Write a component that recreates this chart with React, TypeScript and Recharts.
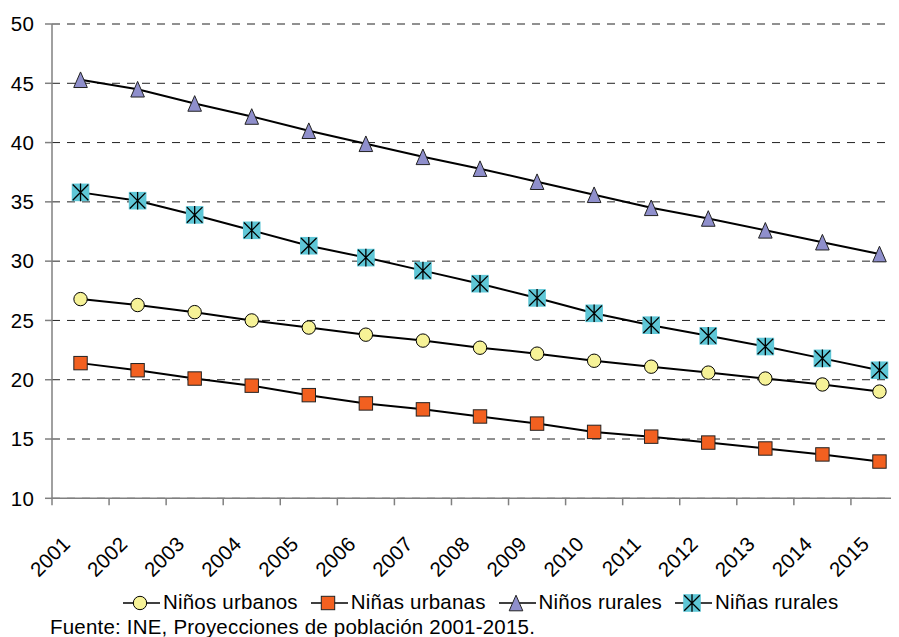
import { LineChart, Line, XAxis, YAxis, CartesianGrid } from "recharts";

const years = [
  "2001", "2002", "2003", "2004", "2005", "2006", "2007", "2008",
  "2009", "2010", "2011", "2012", "2013", "2014", "2015",
];
const ninosUrbanos = [26.8, 26.3, 25.7, 25.0, 24.4, 23.8, 23.3, 22.7, 22.2, 21.6, 21.1, 20.6, 20.1, 19.6, 19.0];
const ninasUrbanas = [21.4, 20.8, 20.1, 19.5, 18.7, 18.0, 17.5, 16.9, 16.3, 15.6, 15.2, 14.7, 14.2, 13.7, 13.1];
const ninosRurales = [45.3, 44.5, 43.3, 42.2, 41.0, 39.9, 38.8, 37.8, 36.7, 35.6, 34.5, 33.6, 32.6, 31.6, 30.6];
const ninasRurales = [35.8, 35.1, 33.9, 32.6, 31.3, 30.3, 29.2, 28.1, 26.9, 25.6, 24.6, 23.7, 22.8, 21.8, 20.8];
const yTicks = [10, 15, 20, 25, 30, 35, 40, 45, 50];

const FONT = '"Liberation Sans", Arial, sans-serif';
const FONT_SIZE = 20.5;
const SPACING = 0.2;
const AXIS_GRAY = "#808080";

const CHART_W = 910;
const CHART_H = 629;
const MARGIN = { top: 16, right: 10, left: 0, bottom: 0 };
const Y_AXIS_W = 44;
const BAND = (CHART_W - MARGIN.left - MARGIN.right - Y_AXIS_W) / years.length;

const data = years.map((year, i) => ({
  year,
  ninosUrbanos: ninosUrbanos[i],
  ninasUrbanas: ninasUrbanas[i],
  ninosRurales: ninosRurales[i],
  ninasRurales: ninasRurales[i],
}));

// marker shapes, shared by the lines and the legend
const Circle = ({ cx, cy }: { cx: number; cy: number }) => (
  <circle cx={cx} cy={cy} r={6.7} fill="#F6F297" stroke="#000" strokeWidth={1} />
);
const Square = ({ cx, cy }: { cx: number; cy: number }) => (
  <rect x={cx - 6.7} y={cy - 6.7} width={13.4} height={13.4} fill="#F26020" stroke="#222" strokeWidth={1} />
);
const Triangle = ({ cx, cy }: { cx: number; cy: number }) => (
  <polygon
    points={`${cx},${cy - 7.8} ${cx + 6.8},${cy + 7.8} ${cx - 6.8},${cy + 7.8}`}
    fill="#8F8FCC"
    stroke="#222"
    strokeWidth={1}
  />
);
const StarBox = ({ cx, cy }: { cx: number; cy: number }) => {
  const h = 8.8;
  return (
    <g>
      <rect x={cx - h} y={cy - h} width={h * 2} height={h * 2} fill="#5EC6D6" />
      <path
        d={`M${cx - h + 1},${cy - h + 1}L${cx + h - 1},${cy + h - 1}M${cx + h - 1},${cy - h + 1}L${cx - h + 1},${cy + h - 1}M${cx},${cy - h}L${cx},${cy + h}`}
        stroke="#000"
        strokeWidth={1.3}
      />
    </g>
  );
};

const series = [
  { key: "ninosUrbanos", name: "Niños urbanos", Marker: Circle },
  { key: "ninasUrbanas", name: "Niñas urbanas", Marker: Square },
  { key: "ninosRurales", name: "Niños rurales", Marker: Triangle },
  { key: "ninasRurales", name: "Niñas rurales", Marker: StarBox },
];

// year labels sit under each category; tick marks go on the category boundaries
const YearTick = (props: any) => {
  const { x, y, payload } = props;
  const tx = x - 9;
  const ty = y + 47;
  return (
    <g>
      <line x1={x - BAND / 2} x2={x - BAND / 2} y1={y} y2={y + 7} stroke={AXIS_GRAY} strokeWidth={1.5} />
      <text
        x={tx}
        y={ty}
        transform={`rotate(-45 ${tx} ${ty})`}
        textAnchor="end"
        fontFamily={FONT}
        fontSize={FONT_SIZE}
        letterSpacing={SPACING}
        fill="#000"
      >
        {payload.value}
      </text>
    </g>
  );
};

const Legend = () => (
  <div
    style={{
      position: "absolute",
      top: 581,
      left: 115,
      display: "flex",
      alignItems: "center",
      fontFamily: FONT,
      fontSize: FONT_SIZE,
      letterSpacing: SPACING,
      lineHeight: "23px",
      whiteSpace: "nowrap",
    }}
  >
    {series.map(({ key, name, Marker }) => (
      <div key={key} style={{ display: "flex", alignItems: "center", marginRight: 13 }}>
        <svg width={37} height={22} style={{ marginRight: 3, marginTop: 3 }}>
          <line x1={0} x2={37} y1={11} y2={11} stroke="#000" strokeWidth={1.5} />
          <Marker cx={17} cy={11} />
        </svg>
        <span>{name}</span>
      </div>
    ))}
  </div>
);

export default function App() {
  return (
    <div style={{ position: "relative", width: 891, height: CHART_H, overflow: "hidden" }}>
      <style>{"body{overflow:hidden}"}</style>
      <LineChart width={CHART_W} height={CHART_H} data={data} margin={MARGIN}>
        <CartesianGrid vertical={false} stroke="#222" strokeDasharray="8 7" />
        <XAxis
          dataKey="year"
          height={CHART_H - MARGIN.top - 474.3}
          padding={{ left: BAND / 2, right: BAND / 2 }}
          interval={0}
          tickLine={false}
          tickSize={0}
          tickMargin={0}
          axisLine={{ stroke: AXIS_GRAY, strokeWidth: 1.5 }}
          tick={<YearTick />}
        />
        <YAxis
          width={Y_AXIS_W}
          domain={[10, 50]}
          ticks={yTicks}
          interval={0}
          tickSize={7}
          tickMargin={11}
          axisLine={{ stroke: AXIS_GRAY, strokeWidth: 1.5 }}
          tickLine={{ stroke: AXIS_GRAY, strokeWidth: 1.5 }}
          tick={{ fill: "#000", fontFamily: FONT, fontSize: FONT_SIZE, letterSpacing: SPACING }}
        />
        {series.map(({ key, Marker }) => (
          <Line
            key={key}
            dataKey={key}
            type="linear"
            stroke="#000"
            strokeWidth={2}
            isAnimationActive={false}
            activeDot={false}
            dot={(p: any) => <Marker key={`${key}-${p.index}`} cx={p.cx} cy={p.cy} />}
          />
        ))}
      </LineChart>
      <Legend />
      <div
        style={{
          position: "absolute",
          top: 607,
          left: 42,
          fontFamily: FONT,
          fontSize: FONT_SIZE,
          letterSpacing: SPACING,
          lineHeight: "23px",
          whiteSpace: "nowrap",
        }}
      >
        Fuente: INE, Proyecciones de población 2001-2015.
      </div>
    </div>
  );
}
